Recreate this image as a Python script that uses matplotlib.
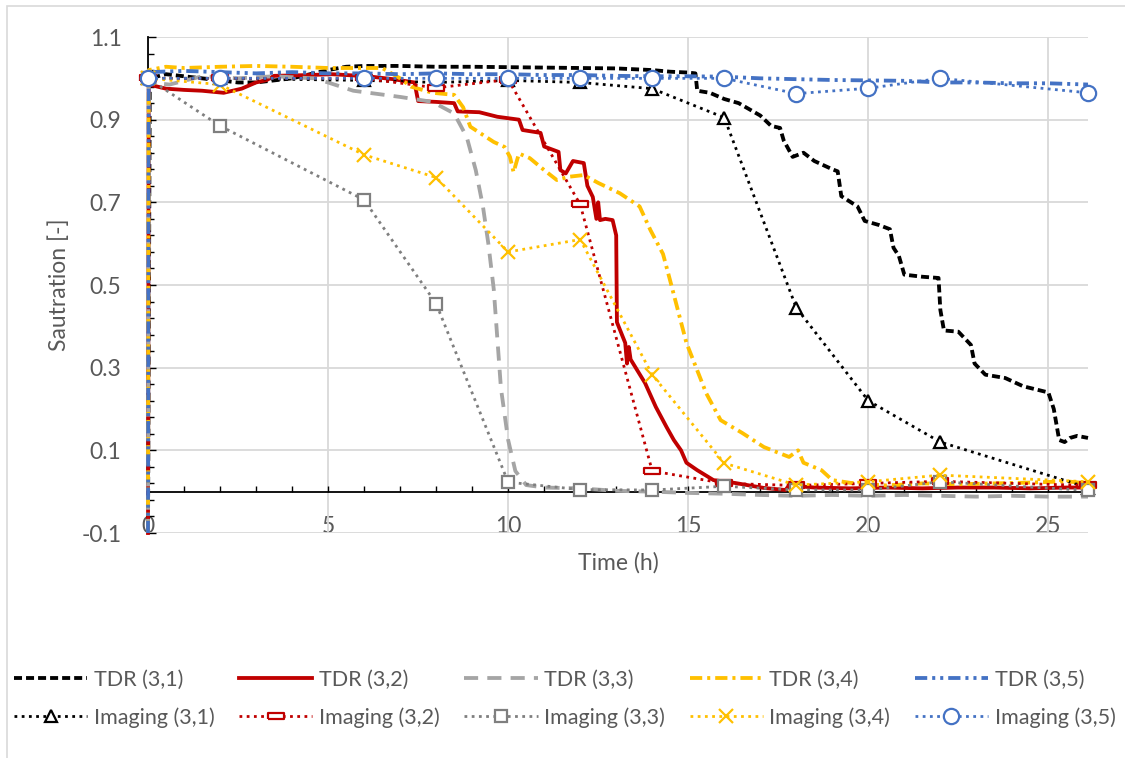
import matplotlib
matplotlib.use("Agg")
import matplotlib.pyplot as plt
from matplotlib.patches import Rectangle

plt.rcParams['font.family'] = ['Lato', 'DejaVu Sans']
plt.rcParams['axes.unicode_minus'] = False

# ---- data ----
# TDR measurements (time in h, saturation)
tdr31_t = [0, 0.05, 0.5, 1.0, 1.5, 2.0, 2.5, 3.0, 3.5, 4.0, 4.5, 5.0, 5.5, 6, 7, 8, 9, 10, 11, 12, 13, 14,
           14.5, 15.0, 15.2, 15.25, 15.6, 16.0, 16.4, 16.7, 17.0, 17.3, 17.55, 17.65, 17.9, 18.2, 18.5, 19.0,
           19.15, 19.25, 19.7, 19.9, 20.3, 20.6, 20.7, 20.85, 21.0, 21.5, 21.95, 22.0, 22.1, 22.5, 22.85,
           22.95, 23.25, 23.8, 24.3, 25.0, 25.15, 25.3, 25.45, 25.6, 25.8, 26.1]
tdr31_s = [-0.1, 1.0, 1.01, 1.005, 1.0, 0.995, 0.99, 0.99, 0.995, 1.0, 1.01, 1.02, 1.028, 1.03, 1.03, 1.028,
           1.028, 1.027, 1.026, 1.025, 1.024, 1.02, 1.016, 1.014, 1.012, 0.97, 0.965, 0.95, 0.94, 0.925, 0.91,
           0.885, 0.88, 0.85, 0.81, 0.82, 0.80, 0.78, 0.775, 0.715, 0.69, 0.655, 0.645, 0.635, 0.59, 0.57,
           0.525, 0.52, 0.517, 0.44, 0.39, 0.387, 0.355, 0.31, 0.283, 0.275, 0.255, 0.24, 0.2, 0.125, 0.12,
           0.13, 0.135, 0.13]

tdr32_t = [0, 0.02, 0.5, 1.0, 1.5, 2.1, 2.6, 3.0, 3.3, 3.5, 4.5, 5.1, 6.1, 6.8, 7.4, 7.5, 8.0, 8.5, 8.6,
           9.2, 9.7, 10.3, 10.4, 10.9, 11.0, 11.4, 11.45, 11.6, 11.8, 12.1, 12.2, 12.35, 12.45, 12.5, 12.55,
           12.7, 12.9, 13.0, 13.02, 13.25, 13.3, 13.35, 13.4, 13.8, 14.1, 14.4, 14.6, 14.8, 14.95, 15.25,
           15.7, 16.3, 17.1, 17.7, 17.8, 18.5, 19.5, 20.5, 21.5, 22.5, 23.5, 24.5, 25.5, 26.1]
tdr32_s = [-0.1, 0.985, 0.975, 0.972, 0.97, 0.965, 0.975, 0.99, 0.996, 1.006, 1.008, 1.01, 1.005, 0.998,
           0.99, 0.945, 0.943, 0.94, 0.92, 0.918, 0.907, 0.90, 0.875, 0.868, 0.835, 0.822, 0.778, 0.77, 0.80,
           0.795, 0.74, 0.713, 0.66, 0.70, 0.657, 0.66, 0.657, 0.62, 0.41, 0.36, 0.31, 0.35, 0.32, 0.263,
           0.205, 0.156, 0.125, 0.10, 0.07, 0.052, 0.028, 0.021, 0.009, 0.004, 0.015, 0.01, 0.008, 0.01,
           0.008, 0.01, 0.01, 0.008, 0.01, 0.01]

tdr33_t = [0, 0.02, 0.6, 1.5, 2.5, 3.5, 4.6, 5.0, 5.7, 7.0, 7.9, 8.5, 8.85, 9.1, 9.3, 9.45, 9.6, 9.8, 10.0,
           10.2, 10.5, 11, 12, 13, 14, 15, 16, 17, 18, 19, 20, 21, 22, 23, 24, 25, 26.1]
tdr33_s = [-0.1, 0.99, 0.985, 1.005, 1.0, 1.005, 1.0, 0.99, 0.97, 0.955, 0.943, 0.915, 0.858, 0.778, 0.69,
           0.6, 0.49, 0.25, 0.125, 0.05, 0.016, 0.01, 0.008, 0.002, 0.0, -0.003, -0.005, -0.008, -0.01,
           -0.008, -0.01, -0.008, -0.01, -0.012, -0.01, -0.012, -0.012]

tdr34_t = [0, 0.02, 0.5, 1, 2, 3, 4, 5, 6, 6.5, 7.0, 7.3, 7.9, 8.5, 8.75, 8.95, 9.6, 9.9, 10.05, 10.15,
           10.3, 10.6, 11.0, 11.35, 11.7, 12.1, 12.5, 13.1, 13.65, 13.95, 14.3, 14.5, 14.95, 15.5, 15.9,
           16.5, 17.1, 17.8, 18.05, 18.2, 18.7, 19.0, 19.6, 20.5, 21.5, 22.5, 23.5, 24.5, 25.5, 26.1]
tdr34_s = [-0.1, 1.02, 1.028, 1.025, 1.028, 1.03, 1.028, 1.025, 1.025, 1.025, 1.0, 0.98, 0.965, 0.96,
           0.93, 0.883, 0.846, 0.834, 0.81, 0.773, 0.818, 0.807, 0.778, 0.754, 0.762, 0.766, 0.747, 0.722,
           0.69, 0.633, 0.575, 0.51, 0.36, 0.238, 0.173, 0.142, 0.108, 0.084, 0.1, 0.07, 0.052, 0.028,
           0.02, 0.015, 0.02, 0.018, 0.02, 0.022, 0.025, 0.02]

tdr35_t = [0, 0.02, 1, 2, 3, 4, 5, 6, 7, 8, 9, 10, 11, 12, 13, 14, 15, 16, 17, 18, 19, 20, 21, 22, 23,
           24, 25, 26.1]
tdr35_s = [-0.1, 1.015, 1.018, 1.015, 1.012, 1.015, 1.012, 1.012, 1.01, 1.012, 1.01, 1.01, 1.008, 1.008,
           1.006, 1.005, 1.005, 1.004, 1.0, 0.998, 0.996, 0.995, 0.994, 0.99, 0.99, 0.988, 0.988, 0.985]

# Imaging measurements
img_t = [0, 2, 6, 8, 10, 12, 14, 16, 18, 20, 22, 26.1]
img31 = [1.0, 1.0, 0.995, 0.99, 0.995, 0.99, 0.975, 0.905, 0.445, 0.22, 0.12, 0.01]
img32 = [1.0, 1.0, 1.0, 0.977, 0.997, 0.695, 0.05, 0.02, 0.015, 0.02, 0.025, 0.015]
img33 = [1.0, 0.885, 0.706, 0.455, 0.023, 0.005, 0.004, 0.013, 0.004, 0.004, 0.024, 0.003]
img34 = [1.0, 0.985, 0.815, 0.76, 0.58, 0.61, 0.283, 0.069, 0.016, 0.024, 0.04, 0.024]
img35 = [1.0, 1.0, 1.0, 1.0, 1.0, 1.0, 1.0, 1.0, 0.963, 0.976, 1.0, 0.965]

tdr_labels = ['TDR (3,1)', 'TDR (3,2)', 'TDR (3,3)', 'TDR (3,4)', 'TDR (3,5)']
img_labels = ['Imaging (3,1)', 'Imaging (3,2)', 'Imaging (3,3)', 'Imaging (3,4)', 'Imaging (3,5)']

# ---- styling ----
black, red, lgray, dgray, yellow, blue = '#000000', '#C00000', '#A5A5A5', '#7F7F7F', '#FFC000', '#4472C4'
txt = '#595959'
grid = '#D9D9D9'
fs = 16.5

fig = plt.figure(figsize=(11.25, 7.58), dpi=100)
ax = fig.add_axes([148 / 1125, 225 / 758, 940 / 1125, 496 / 758])

lw = 2.75
tdr_styles = [
    (tdr31_t, tdr31_s, black, (0, (2.1, 1.05))),
    (tdr32_t, tdr32_s, red, '-'),
    (tdr33_t, tdr33_s, lgray, (0, (3.7, 2.4))),
    (tdr34_t, tdr34_s, yellow, (0, (3.2, 1.3, 0.8, 1.3))),
    (tdr35_t, tdr35_s, blue, (0, (3.2, 1.3, 0.8, 1.3, 0.8, 1.3))),
]
tdr_handles = []
for (t, s, c, ls), lab in zip(tdr_styles, tdr_labels):
    h, = ax.plot(t, s, color=c, lw=lw, linestyle=ls, label=lab, zorder=3, clip_on=False)
    tdr_handles.append(h)

rect_marker = [(-1, -0.42), (1, -0.42), (1, 0.42), (-1, 0.42), (-1, -0.42)]
img_styles = [
    (img31, black, '^', 9, 'white'),
    (img32, red, rect_marker, 11, 'white'),
    (img33, dgray, 's', 9, 'white'),
    (img34, yellow, 'x', 10, yellow),
    (img35, blue, 'o', 11, 'white'),
]
img_handles = []
for (s, c, m, ms, fc), lab in zip(img_styles, img_labels):
    h, = ax.plot(img_t, s, color=c, lw=2, linestyle=(0, (1, 1.6)), marker=m, ms=ms,
                 mfc=fc, mec=c, mew=1.6, label=lab, zorder=4, clip_on=False)
    img_handles.append(h)

# ---- axes ----
ax.set_xlim(0, 26.1)
ax.set_ylim(-0.1, 1.1)
yt = [-0.1, 0.1, 0.3, 0.5, 0.7, 0.9, 1.1]
ax.set_yticks(yt)
ax.set_yticklabels(['%.1f' % v for v in yt])
ax.set_yticks([-0.1 + 0.04 * i for i in range(31)], minor=True)
ax.tick_params(axis='y', which='major', direction='in', length=6, width=1, color='black',
               labelsize=fs, labelcolor=txt, pad=19)
ax.tick_params(axis='y', which='minor', direction='in', length=4, width=1, color='black')

ax.set_xticks([0, 5, 10, 15, 20, 25])
ax.set_xticks(range(0, 27), minor=True)
ax.spines['bottom'].set_position(('data', 0))
ax.spines['bottom'].set_linewidth(1.3)
ax.tick_params(axis='x', which='both', direction='in', length=4, width=1, color='black',
               labelbottom=False)

sec = ax.secondary_xaxis('bottom')
sec.set_xticks([0, 5, 10, 15, 20, 25])
sec.set_xticklabels(['0', '5', '10', '15', '20', '25'])
sec.tick_params(axis='x', length=0, pad=-12.5, labelsize=fs, labelcolor=txt)
sec.spines['bottom'].set_visible(False)

for sp in ['top', 'right']:
    ax.spines[sp].set_visible(False)
ax.spines['left'].set_linewidth(1.3)

ax.grid(True, which='major', color=grid, lw=1.3)
ax.set_axisbelow(True)

ax.set_xlabel('Time (h)', fontsize=fs, color=txt)
ax.xaxis.set_label_coords(0.5, -0.0605)
ax.xaxis.label.set_verticalalignment('center')
ax.set_ylabel('Sautration [-]', fontsize=fs, color=txt)
ax.yaxis.set_label_coords(-0.0947, 0.5)
ax.yaxis.label.set_verticalalignment('center')

# legend: row 1 TDR, row 2 Imaging (matplotlib fills column by column)
handles, labels = [], []
for a, b in zip(tdr_handles, img_handles):
    handles += [a, b]
    labels += [a.get_label(), b.get_label()]
fig.legend(handles, labels, ncol=5, loc='upper left', bbox_to_anchor=(14 / 1125, 1 - 670 / 758),
           frameon=False, fontsize=15.5, labelcolor=txt, handlelength=3.4, handletextpad=0.3,
           columnspacing=1.15, labelspacing=0.8, borderpad=0, borderaxespad=0)

# chart area border
fig.patches.append(Rectangle((7 / 1125, -0.1), 1.2, 1.1 - 6 / 758, transform=fig.transFigure,
                             fill=False, edgecolor=grid, lw=1.2))

fig.savefig('out.png', dpi=100)
